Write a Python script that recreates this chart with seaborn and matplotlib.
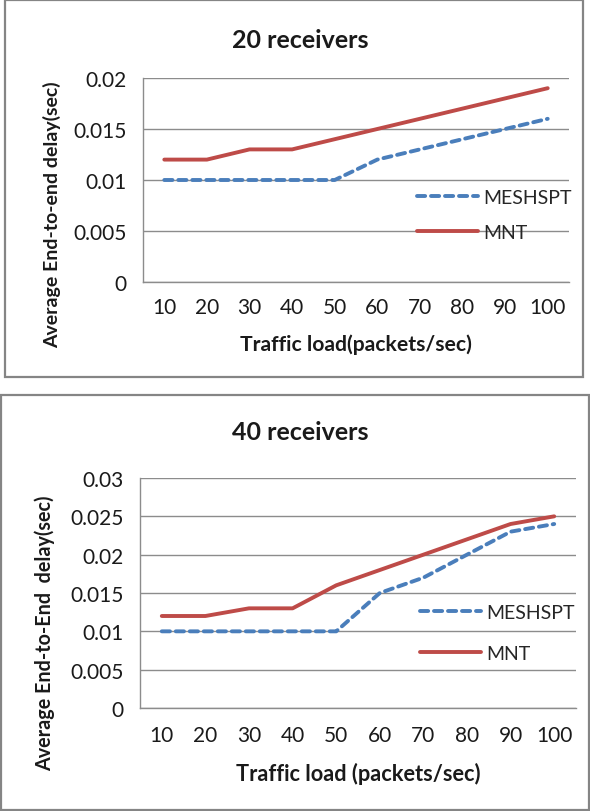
import matplotlib
matplotlib.use("Agg")
import matplotlib.pyplot as plt
import seaborn as sns
import pandas as pd
import numpy as np
from matplotlib.patches import Rectangle
from matplotlib.ticker import FixedLocator

sns.set_theme(style="white")
plt.rcParams['font.family'] = ['Lato', 'DejaVu Sans']

loads = ["10", "20", "30", "40", "50", "60", "70", "80", "90", "100"]
meshspt_20 = [0.010, 0.010, 0.010, 0.010, 0.010, 0.012, 0.013, 0.014, 0.015, 0.016]
mnt_20 = [0.012, 0.012, 0.013, 0.013, 0.014, 0.015, 0.016, 0.017, 0.018, 0.019]
meshspt_40 = [0.010, 0.010, 0.010, 0.010, 0.010, 0.015, 0.017, 0.020, 0.023, 0.024]
mnt_40 = [0.012, 0.012, 0.013, 0.013, 0.016, 0.018, 0.020, 0.022, 0.024, 0.025]
yticks_20 = [0, 0.005, 0.01, 0.015, 0.02]
yticklabels_20 = ["0", "0.005", "0.01", "0.015", "0.02"]
yticks_40 = [0, 0.005, 0.01, 0.015, 0.02, 0.025, 0.03]
yticklabels_40 = ["0", "0.005", "0.01", "0.015", "0.02", "0.025", "0.03"]

BLUE = "#4a7ebb"
RED = "#be4b48"
GRID = "#8c8c8c"
TXT = "#1a1a1a"

W, H = 590, 812
fig = plt.figure(figsize=(W / 100, H / 100), dpi=100)
fig.patch.set_facecolor("white")


def fx(px):
    return px / W


def fy(py):
    return 1 - py / H


def panel(rect_px, frame_px, title, title_xy, ylabel, ylabel_xy, ylabel_fs,
          xlabel, xlabel_y, xlabel_fs, mesh, mnt, yticks, ylabels, ymax,
          legend_px, labelspacing, xpad):
    x0, y0, x1, y1 = frame_px
    fig.patches.append(Rectangle((fx(x0), fy(y1)), fx(x1 - x0), (y1 - y0) / H,
                                 transform=fig.transFigure, fill=False,
                                 edgecolor="#858585", linewidth=1.6))
    l, t, r, b = rect_px
    aw, ah = r - l, b - t
    ax = fig.add_axes([fx(l), fy(b), fx(aw), ah / H])
    df = pd.DataFrame({
        "x": list(range(len(loads))) * 2,
        "y": mesh + mnt,
        "series": ["MESHSPT"] * len(loads) + ["MNT"] * len(loads),
    })
    sns.lineplot(data=df, x="x", y="y", hue="series", style="series",
                 palette={"MESHSPT": BLUE, "MNT": RED},
                 dashes={"MESHSPT": (2.1, 1.5), "MNT": ""},
                 linewidth=2.8, ax=ax, legend=True)
    for ln in ax.lines:
        ln.set_solid_capstyle("round")
        ln.set_dash_capstyle("round")
    ax.set_xlim(-0.5, len(loads) - 0.5)
    ax.set_ylim(0, ymax)
    ax.set_yticks(yticks)
    ax.set_yticklabels(ylabels, fontsize=15, color=TXT)
    ax.set_xticks(range(len(loads)))
    ax.set_xticklabels(loads, fontsize=15, color=TXT)
    ax.xaxis.set_minor_locator(FixedLocator(np.arange(-0.5, len(loads), 1.0)))
    ax.tick_params(axis="x", which="major", length=0, pad=xpad)
    ax.tick_params(axis="x", which="minor", length=6, width=1, color=GRID, direction="out")
    ax.tick_params(axis="y", which="major", length=5, width=1, color=GRID, direction="out", pad=7)
    ax.grid(axis="y", color=GRID, linewidth=1)
    ax.grid(axis="x", visible=False)
    for s in ["top", "right"]:
        ax.spines[s].set_visible(False)
    for s in ["left", "bottom"]:
        ax.spines[s].set_color(GRID)
        ax.spines[s].set_linewidth(1)
    ax.set_axisbelow(True)

    ax.set_xlabel(xlabel, fontsize=xlabel_fs, fontweight="bold", color=TXT)
    ax.xaxis.label.set_va("center")
    ax.xaxis.set_label_coords(0.5, (b - xlabel_y) / ah)
    ax.set_ylabel(ylabel, fontsize=ylabel_fs, fontweight="bold", color=TXT)
    ax.yaxis.label.set_va("center")
    ax.yaxis.set_label_coords((ylabel_xy[0] - l) / aw, (b - ylabel_xy[1]) / ah)

    lx, ly = legend_px
    ax.legend(loc="center left", bbox_to_anchor=((lx - l) / aw, (b - ly) / ah),
              frameon=False, fontsize=14, handlelength=3.15, handletextpad=0.25,
              labelspacing=labelspacing, borderpad=0, borderaxespad=0, title=None)
    fig.text(fx(title_xy[0]), fy(title_xy[1]), title, ha="center", va="center",
             fontsize=18, fontweight="bold", color=TXT)
    return ax


panel((143, 79, 569, 283), (5, 1, 583, 378), "20 receivers", (300, 40),
      "Average End-to-end delay(sec)", (52, 215), 14,
      "Traffic load(packets/sec)", 345, 15.2,
      meshspt_20, mnt_20, yticks_20, yticklabels_20, 0.02, (417, 216), 0.95, 11)

panel((140, 479, 576, 709), (1, 396, 589, 811), "40 receivers", (300, 433),
      "Average End-to-End  delay(sec)", (45, 633), 14.2,
      "Traffic load (packets/sec)", 774, 15.7,
      meshspt_40, mnt_40, yticks_40, yticklabels_40, 0.03, (420, 634), 1.25, 12)

fig.savefig("out.png", dpi=100, facecolor="white")
